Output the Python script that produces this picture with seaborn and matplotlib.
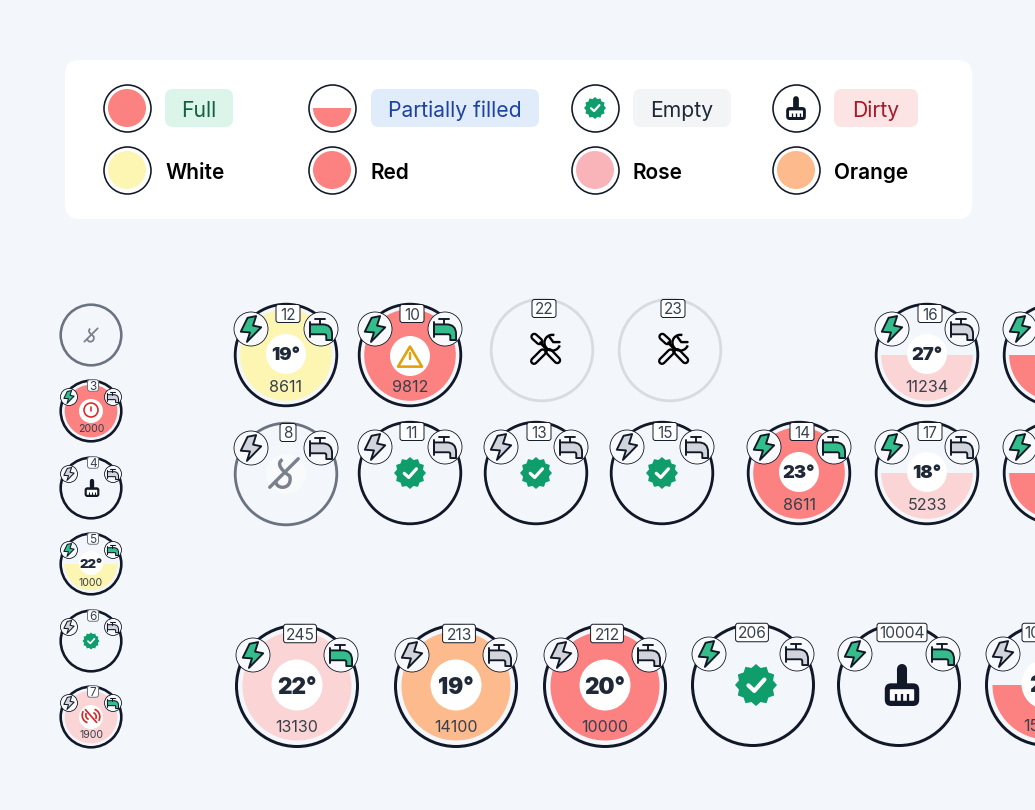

# Meter status overview sheet
import pandas as pd
import matplotlib
matplotlib.use("Agg")
import matplotlib.pyplot as plt
import seaborn as sns
from matplotlib.patches import Circle, Wedge, FancyBboxPatch, PathPatch, Arc
from matplotlib.path import Path
import numpy as np

# Legend rows
legend_labels = ["Full", "Partially filled", "Empty", "Dirty"]
legend_names = ["White", "Red", "Rose", "Orange"]

# Units (left column, two middle rows, bottom row)
unit_ids = ["", "3", "4", "5", "6", "7",
            "12", "10", "22", "23", "16", "",
            "8", "11", "13", "15", "14", "17", "",
            "245", "213", "212", "206", "10004", "10005"]
unit_temps = ["", "", "", "22°", "", "",
              "19°", "", "", "", "27°", "",
              "", "", "", "", "23°", "18°", "",
              "22°", "19°", "20°", "", "", "21°"]
unit_readings = ["", "2000", "", "1000", "", "1900",
                 "8611", "9812", "", "", "11234", "",
                 "", "", "", "", "8611", "5233", "",
                 "13130", "14100", "10000", "", "", "15000"]
unit_fill = ["", "red", "", "yellow", "", "pale",
             "yellow", "red", "", "", "pale", "red",
             "", "", "", "", "red", "pale", "red",
             "pale", "orange", "red", "", "", "red"]
unit_half = [0, 0, 0, 1, 0, 0,
             0, 0, 0, 0, 1, 1,
             0, 0, 0, 0, 0, 1, 1,
             0, 0, 0, 0, 0, 1]
unit_icon = ["hook", "alert", "brush", "", "check", "nowater",
             "", "warn", "tools", "tools", "", "",
             "hook", "check", "check", "check", "", "", "",
             "", "", "", "check", "brush", ""]
unit_power = [-1, 1, 0, 1, 0, 0,
              1, 1, -1, -1, 1, 1,
              0, 0, 0, 0, 1, 1, 1,
              1, 0, 0, 1, 1, 0]
unit_water = [-1, 0, 0, 1, 0, 1,
              1, 1, -1, -1, 0, 0,
              0, 0, 0, 0, 1, 0, 0,
              1, 0, 0, 0, 1, 0]
unit_ring = ["gray", "dark", "dark", "dark", "dark", "dark",
             "dark", "dark", "light", "light", "dark", "dark",
             "gray", "dark", "dark", "dark", "dark", "dark", "dark",
             "dark", "dark", "dark", "dark", "dark", "dark"]
unit_size = ["s"] * 6 + ["m"] * 13 + ["l"] * 6
unit_x = [91, 91, 91, 91, 91, 91,
          286, 410, 542, 670, 927, 1055,
          286, 410, 536, 662, 799, 927, 1055,
          297, 456, 605, 753, 899, 1047]
unit_y = [335, 411, 488, 564, 641, 717,
          355, 355, 350, 350, 355, 355,
          474, 473, 473, 473, 473, 473, 473,
          686, 686, 686, 685, 685, 685]
id_shift = [0, 2, 2, 2, 2, 2,
            2, 2, 2, 3, 3, 3,
            2, 2, 3, 3, 3, 3, 3,
            3, 3, 2, -1, 3, 0]

BG = "#F3F6FB"
DARK = "#111827"
GREEN = "#0F9D6B"
BOLT_ON = "#34BD8B"
OFF = "#D1D5DB"
colors = {"red": "#FC8181", "yellow": "#FDF6B2", "pale": "#FBD5D5",
          "orange": "#FDBA8C", "rose": "#F8B4B9"}
ring_colors = {"dark": DARK, "gray": "#6B7280", "light": "#D8DBE0"}
PX = 0.72

geo = {
    "s": dict(r=30.3, lw=2.6, inset=4, disc=12, b=8.5, bx=22, by=-14, idy=-25.5, idh=11.5,
              rd=17.5, tf=9.5, rf=7.6, idf=8.5, chk=8.5, brush=9),
    "m": dict(r=50.8, lw=2.8, inset=5, disc=20, b=17, bx=35, by=-26, idy=-41.5, idh=18,
              rd=30.5, tf=13.2, rf=11.6, idf=11, chk=16, brush=14),
    "l": dict(r=60.5, lw=3, inset=6, disc=25.5, b=17, bx=44, by=-31, idy=-52.5, idh=18.5,
              rd=40, tf=16.2, rf=11.5, idf=11.2, chk=21, brush=21),
}

sns.set_style("white")
plt.rcParams["font.family"] = ["Inter", "DejaVu Sans"]

fig = plt.figure(figsize=(10.35, 8.1), dpi=100, facecolor=BG)
ax = fig.add_axes([0, 0, 1, 1], facecolor=BG)


def line(xs, ys, color, width, z, cap="round"):
    ax.plot(xs, ys, color=color, lw=width * PX, zorder=z, solid_capstyle=cap, solid_joinstyle="round")


def shape(cx, cy, k, verts, codes, fc, ec, lw, z):
    v = np.array(verts, dtype=float) * k + [cx, cy]
    ax.add_patch(PathPatch(Path(v, codes), fc=fc, ec=ec, lw=lw * PX, zorder=z, joinstyle="round"))


def bolt(cx, cy, rad, on):
    pts = [(-0.2, -0.66), (0.3, -0.76), (0.12, -0.2), (0.6, -0.1), (-0.24, 0.76),
           (-0.06, 0.2), (-0.6, 0.16), (-0.2, -0.66)]
    codes = [Path.MOVETO] + [Path.LINETO] * 6 + [Path.CLOSEPOLY]
    shape(cx, cy, rad, pts, codes, BOLT_ON if on else OFF, DARK, 1.7 * rad / 17 + 0.2, 8)


def faucet(cx, cy, rad, on):
    k = rad
    pts = [(-0.65, -0.27), (0.1, -0.27), (0.65, -0.27), (0.65, 0.3), (0.65, 0.65), (0.31, 0.65),
           (0.31, 0.4), (0.31, 0.31), (0.2, 0.31), (-0.65, 0.31), (-0.65, -0.27)]
    codes = [Path.MOVETO, Path.LINETO, Path.CURVE3, Path.CURVE3, Path.LINETO, Path.LINETO,
             Path.LINETO, Path.CURVE3, Path.CURVE3, Path.LINETO, Path.CLOSEPOLY]
    w = 1.7 * rad / 17 + 0.2
    shape(cx, cy, k, pts, codes, BOLT_ON if on else OFF, DARK, w, 8)
    line([cx - 0.65 * k] * 2, [cy - 0.43 * k, cy + 0.45 * k], DARK, w, 8)
    line([cx - 0.08 * k] * 2, [cy - 0.6 * k, cy - 0.27 * k], DARK, w, 8)
    line([cx - 0.37 * k, cx + 0.22 * k], [cy - 0.6 * k] * 2, DARK, w, 8)


def check(cx, cy, rad):
    ang = np.linspace(0, 2 * np.pi, 24, endpoint=False)
    rr = np.where(np.arange(24) % 2 == 0, 1.0, 0.84) * rad
    xy = np.column_stack([cx + rr * np.cos(ang), cy + rr * np.sin(ang)])
    ax.fill(xy[:, 0], xy[:, 1], color=GREEN, lw=0, zorder=5)
    line([cx - 0.36 * rad, cx - 0.08 * rad, cx + 0.4 * rad],
         [cy + 0.02 * rad, cy + 0.28 * rad, cy - 0.26 * rad], "white", rad * 0.2, 6)


def brush(cx, cy, h):
    line([cx, cx], [cy - 0.76 * h, cy - 0.05 * h], DARK, h * 0.48, 5)
    ax.add_patch(FancyBboxPatch((cx - 0.82 * h, cy - 0.08 * h), 1.64 * h, 1.08 * h,
                                boxstyle=f"round,pad=0,rounding_size={0.3 * h}", fc=DARK, ec="none", zorder=5))
    ax.add_patch(FancyBboxPatch((cx - 0.58 * h, cy + 0.2 * h), 1.16 * h, 0.55 * h,
                                boxstyle=f"round,pad=0,rounding_size={0.05 * h}", fc="white", ec="none", zorder=6))
    for dx in [-0.3, 0, 0.3]:
        line([cx + dx * h] * 2, [cy + 0.42 * h, cy + 0.75 * h], DARK, h * 0.11, 7, cap="butt")


def capsule(cx, cy, h, p, q):
    xs = [cx + p[0] * h, cx + q[0] * h]
    ys = [cy + p[1] * h, cy + q[1] * h]
    line(xs, ys, "black", 8, 5)
    line(xs, ys, BG, 3.4, 6)


def tools(cx, cy, h):
    capsule(cx, cy, h, (-0.78, -0.82), (-0.44, -0.51))
    line([cx - 0.36 * h, cx + 0.12 * h], [cy - 0.42 * h, cy + 0.1 * h], "black", 3, 6)
    capsule(cx, cy, h, (0.22, 0.2), (0.75, 0.75))
    capsule(cx, cy, h, (-0.8, 0.8), (-0.22, 0.22))
    ax.add_patch(Arc((cx + 0.42 * h, cy - 0.42 * h), 1.05 * h, 1.05 * h, theta1=20, theta2=285,
                     ec="black", lw=2.4 * PX, zorder=7))
    line([cx + 0.2 * h, cx + 0.48 * h, cx + 0.9 * h], [cy - 0.85 * h, cy - 0.46 * h, cy - 0.46 * h], "black", 2.4, 7)


def warn(cx, cy, h):
    c = "#E3A008"
    ax.fill([cx, cx - h, cx + h, cx], [cy - 0.95 * h, cy + 0.72 * h, cy + 0.72 * h, cy - 0.95 * h],
            fc="white", ec=c, lw=2.6 * PX, zorder=6, joinstyle="round")
    line([cx, cx], [cy - 0.38 * h, cy + 0.1 * h], c, 2.4, 7)
    line([cx, cx + 0.001], [cy + 0.42 * h, cy + 0.42 * h], c, 2.6, 7)


def alert(cx, cy, h):
    c = "#DC2626"
    ax.add_patch(Circle((cx, cy), h, fc="white", ec=c, lw=1.6 * PX, zorder=6))
    line([cx, cx], [cy - 0.5 * h, cy + 0.1 * h], c, 1.6, 7)
    line([cx, cx + 0.001], [cy + 0.5 * h, cy + 0.5 * h], c, 1.7, 7)


def nowater(cx, cy, h):
    c = "#DC2626"
    for rad in [1.0, 0.55]:
        ax.add_patch(Arc((cx + 0.1 * h, cy + 0.1 * h), 2 * rad * h, 2 * rad * h, theta1=-70, theta2=30,
                         ec=c, lw=1.7 * PX, zorder=6))
        ax.add_patch(Arc((cx - 0.1 * h, cy - 0.1 * h), 2 * rad * h, 2 * rad * h, theta1=110, theta2=210,
                         ec=c, lw=1.7 * PX, zorder=6))
    line([cx - 0.7 * h, cx + 0.7 * h], [cy - 0.8 * h, cy + 0.8 * h], c, 1.7, 7)


def hook(cx, cy, h, width):
    c = "#7B818C"
    pts = [(-0.1, -0.9), (-0.45, -0.7), (-0.35, -0.3), (0.38, 0.2), (0.5, 0.65), (0.25, 0.98), (-0.15, 0.95),
           (-0.55, 0.9), (-0.55, 0.5)]
    codes = [Path.MOVETO] + [Path.CURVE4] * 6 + [Path.CURVE3, Path.CURVE3]
    shape(cx, cy, h, pts, codes, "none", c, width, 6)
    line([cx - 0.95 * h, cx + 0.95 * h], [cy + 0.95 * h, cy - 0.95 * h], c, width, 7)


def draw_icon(name, x, y, size):
    g = geo[size]
    if name == "check":
        check(x + (3 if size == "l" else 0), y, g["chk"])
    elif name == "brush":
        brush(x + (3 if size == "l" else 1), y, g["brush"])
    elif name == "tools":
        tools(x + 4, y - 1, 15)
    elif name == "warn":
        ax.add_patch(Circle((x, y + 1), g["disc"], fc="white", ec="none", zorder=4))
        warn(x, y + 3, 12)
    elif name == "alert":
        ax.add_patch(Circle((x, y), g["disc"], fc="white", ec="none", zorder=4))
        alert(x, y - 1, 7)
    elif name == "nowater":
        ax.add_patch(Circle((x, y), g["disc"], fc="white", ec="none", zorder=4))
        nowater(x, y - 1, 8)
    elif name == "hook":
        if size == "m":
            ax.add_patch(Circle((x, y), g["disc"], fc="#F9FAFC", ec="none", zorder=4))
            hook(x - 2, y - 1, 15, 3.4)
        else:
            hook(x, y, 7, 1.8)


# Rings through seaborn, grouped by size and ring colour
units = pd.DataFrame({"x": unit_x, "y": unit_y, "size": unit_size, "ring": unit_ring})
for (size, ring), grp in units.groupby(["size", "ring"]):
    g = geo[size]
    sns.scatterplot(data=grp, x="x", y="y", s=(2 * g["r"] * PX) ** 2, marker="o", facecolor="none",
                    edgecolor=ring_colors[ring], linewidth=g["lw"] * PX, ax=ax, zorder=3, legend=False)

for i in range(len(unit_x)):
    x, y, size = unit_x[i], unit_y[i], unit_size[i]
    g = geo[size]
    fill = unit_fill[i]
    if fill:
        rad = g["r"] - g["inset"]
        if unit_half[i]:
            ax.add_patch(Wedge((x, y), rad, 0, 180, fc=colors[fill], ec="none", zorder=2))
        else:
            ax.add_patch(Circle((x, y), rad, fc=colors[fill], ec="none", zorder=2))
    if unit_temps[i]:
        ax.add_patch(Circle((x, y - 1), g["disc"], fc="white", ec="none", zorder=4))
        ax.text(x, y - 1, unit_temps[i], ha="center", va="center_baseline", fontsize=g["tf"], fontweight="black",
                color="#1F2937", zorder=6)
    if unit_readings[i]:
        ax.text(x, y + g["rd"], unit_readings[i], ha="center", va="center_baseline", fontsize=g["rf"],
                color="#3A3F4B", zorder=6)
    if unit_icon[i]:
        draw_icon(unit_icon[i], x, y, size)
    if unit_power[i] >= 0:
        bx, by = x - g["bx"], y + g["by"]
        ax.add_patch(Circle((bx, by), g["b"], fc="#F7F9FC", ec=DARK, lw=0.6, zorder=7))
        bolt(bx, by, g["b"], unit_power[i])
        fx = x + g["bx"]
        ax.add_patch(Circle((fx, by), g["b"], fc="#F7F9FC", ec=DARK, lw=0.6, zorder=7))
        faucet(fx, by, g["b"], unit_water[i])
    if unit_ids[i]:
        n = len(unit_ids[i])
        w = {"s": 6 + 5 * n, "m": 8 + 8 * n}.get(size, 7 + 8.6 * n)
        ix = x + id_shift[i]
        h = g["idh"]
        ax.add_patch(FancyBboxPatch((ix - w / 2, y + g["idy"] - h / 2), w, h,
                                    boxstyle="round,pad=0,rounding_size=2.5", fc="white",
                                    ec=DARK if size != "s" else "#6B7280", lw=0.7, zorder=9))
        ax.text(ix, y + g["idy"], unit_ids[i], ha="center", va="center_baseline", fontsize=g["idf"], color="#374151", zorder=10)

# Legend card
ax.add_patch(FancyBboxPatch((65, 60), 907, 159, boxstyle="round,pad=0,rounding_size=14", fc="white", ec="none", zorder=1))
legend_x = [127, 332, 595, 796]
pill_left = [165, 371, 633, 834]
pill_right = [233, 539, 731, 918]
pill_fill = ["#DCF5EA", "#E1ECFB", "#F3F4F6", "#FCE4E4"]
pill_text = ["#14603F", "#1E429F", "#1F2937", "#A61B2B"]
name_left = [165, 370, 633, 834]
name_fill = ["#FDF6B2", "#FC8181", "#F8B4B9", "#FDBA8C"]

top = pd.DataFrame({"x": legend_x + legend_x, "y": [108] * 4 + [170] * 4})
sns.scatterplot(data=top, x="x", y="y", s=(2 * 23.5 * PX) ** 2, marker="o", facecolor="white", edgecolor=DARK,
                linewidth=1.6 * PX, ax=ax, zorder=3, legend=False)
ax.add_patch(Circle((127, 108), 19, fc=colors["red"], ec="none", zorder=4))
ax.add_patch(Wedge((332, 108), 19, 0, 180, fc=colors["red"], ec="none", zorder=4))
check(595, 108, 11)
brush(796, 108, 12)
for j in range(4):
    ax.add_patch(FancyBboxPatch((pill_left[j], 89), pill_right[j] - pill_left[j], 38,
                                boxstyle="round,pad=0,rounding_size=8", fc=pill_fill[j], ec="none", zorder=2))
    ax.text((pill_left[j] + pill_right[j]) / 2, 109, legend_labels[j], ha="center", va="center_baseline",
            fontsize=15.2, color=pill_text[j], zorder=3)
    ax.add_patch(Circle((legend_x[j], 170), 19, fc=name_fill[j], ec="none", zorder=4))
    ax.text(name_left[j], 171, legend_names[j], ha="left", va="center_baseline", fontsize=15, fontweight="semibold",
            color="black", zorder=3)

ax.set_xlim(0, 1035)
ax.set_ylim(810, 0)
ax.axis("off")
fig.savefig("out.png", dpi=100, facecolor=BG)
